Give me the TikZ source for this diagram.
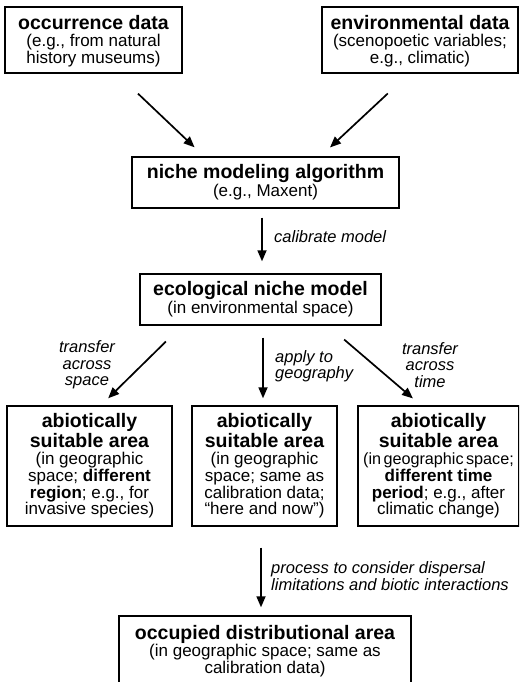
\documentclass[tikz,border=0pt]{standalone}
\usepackage{fontspec}
\setmainfont{Liberation Sans}
\usetikzlibrary{arrows.meta}
\newcommand{\boxfont}{\fontsize{17}{16.8}\selectfont\lineskiplimit=-30pt}
\newcommand{\lblfont}{\itshape\fontsize{16.5}{16.5}\selectfont}
\newcommand{\ttl}[1]{{\bfseries\fontsize{19.5}{20}\selectfont #1}}
\newcommand{\tight}[1]{{\fontsize{16.2}{16.8}\selectfont\spaceskip=0.15em #1}}
\tikzset{
  box/.style={draw, line width=1.4pt, align=center, inner sep=0pt, font=\boxfont},
  arr/.style={line width=1.7pt, -{Triangle[length=11pt,width=9pt]}},
  lbl/.style={font=\lblfont, inner sep=0pt},
}
\begin{document}
\begin{tikzpicture}[x=1pt,y=-1pt]
\useasboundingbox (0,0) rectangle (519,682);
\clip (0,0) rectangle (519,682);
\node[box, minimum width=177, minimum height=66] (occ) at (93.5,40) {\rule{0pt}{17pt}\ttl{occurrence data}\\(e.g., from natural\\history museums)};
\node[box, minimum width=196, minimum height=66] (env) at (420,40) {\rule{0pt}{17pt}\ttl{environmental data}\\(scenopoetic variables;\\e.g., climatic)};
\node[box, minimum width=267, minimum height=51] (alg) at (265.5,182.5) {\ttl{niche modeling algorithm}\\[1pt](e.g., Maxent)};
\node[box, minimum width=241, minimum height=51] (enm) at (260.5,299.5) {\ttl{ecological niche model}\\[1pt](in environmental space)};
\node[box, minimum width=165, minimum height=120] (spc) at (89.5,466) {\ttl{abiotically}\\[3.2pt]\ttl{suitable area}\\(in geographic\\space; \textbf{different}\\\textbf{region}; e.g., for\\invasive species)};
\node[box, minimum width=145, minimum height=120] (geo) at (264.5,466) {\ttl{abiotically}\\[3.2pt]\ttl{suitable area}\\(in geographic\\space; same as\\calibration data;\\``here and now'')};
\node[box, minimum width=161, minimum height=120] (tim) at (438.5,466) {\ttl{abiotically}\\[3.2pt]\ttl{suitable area}\\\tight{(in geographic space;}\\\textbf{different time}\\\textbf{period}; e.g., after\\climatic change)};
\node[box, minimum width=292, minimum height=70] (dist) at (265,651) {\ttl{occupied distributional area}\\(in geographic space; same as\\calibration data)};
\node[lbl, anchor=west] (cal) at (274,237) {calibrate model};
\node[lbl, align=center] (tsp) at (87,365) {transfer\\across\\space};
\node[lbl, align=left, anchor=west] (app) at (275,366) {apply to\\geography};
\node[lbl, align=center] (tti) at (430,365) {transfer\\across\\time};
\node[lbl, align=left, anchor=west] (proc) at (271,576) {process to consider dispersal\\limitations and biotic interactions};
\path[draw,arr,shorten <=29pt,shorten >=13pt] ([xshift=23.5pt]occ.south) -- ([xshift=-61.5pt]alg.north);
\path[draw,arr,shorten <=29pt,shorten >=13pt] ([xshift=-11pt]env.south) -- ([xshift=55pt]alg.north);
\path[draw,arr,shorten <=9pt,shorten >=12pt] ([xshift=-3.5pt]alg.south) -- ([xshift=1.5pt]enm.north);
\path[draw,arr,shorten <=22.6pt,shorten >=10pt] ([xshift=-78.5pt]enm.south) -- ([xshift=11.5pt]spc.north);
\path[draw,arr,shorten <=12pt,shorten >=7pt] ([xshift=2.5pt]enm.south) -- ([xshift=-1.5pt]geo.north);
\path[draw,arr,shorten <=21.3pt,shorten >=10.6pt] ([xshift=67.5pt]enm.south) -- ([xshift=-17.5pt]tim.north);
\path[draw,arr,shorten <=21pt,shorten >=8pt] ([xshift=-3.5pt]geo.south) -- ([xshift=-4pt]dist.north);
\end{tikzpicture}
\end{document}
